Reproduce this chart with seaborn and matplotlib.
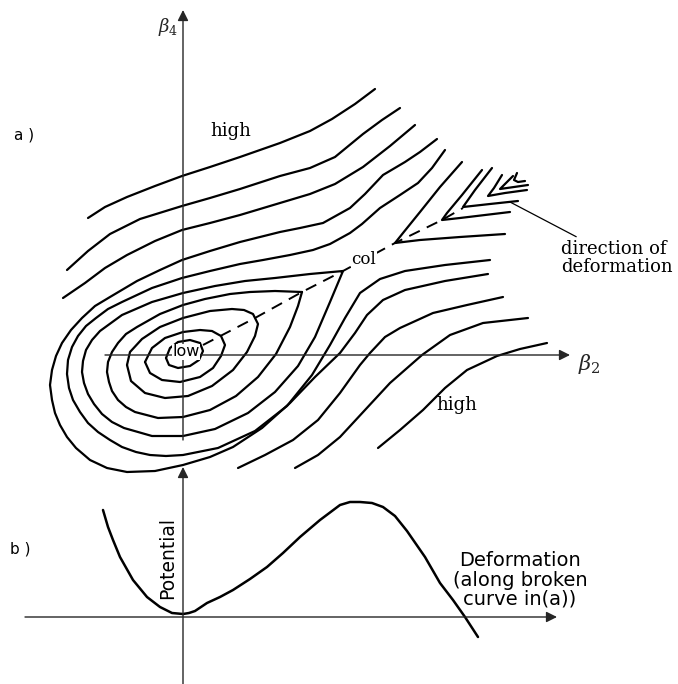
import matplotlib
matplotlib.use("Agg")
import matplotlib.pyplot as plt
import pandas as pd
import seaborn as sns

# contour lines, (x, y) in picture units, y grows downwards
ring1 = [(166, 358), (169, 365), (178, 368), (190, 366), (199, 360), (203, 351), (200, 343),
         (190, 340), (178, 342), (170, 348), (166, 358)]
ring2 = [(145, 362), (150, 373), (162, 380), (180, 382), (200, 377), (213, 368), (221, 356),
         (225, 345), (221, 336), (212, 331), (200, 330), (183, 332), (165, 338), (152, 348),
         (145, 362)]
ring3 = [(127, 365), (131, 381), (145, 393), (165, 398), (188, 396), (212, 386), (233, 370),
         (247, 352), (255, 336), (258, 324), (253, 314), (244, 310), (232, 309), (210, 311),
         (183, 318), (160, 327), (142, 339), (130, 352), (127, 365)]
drop1 = [(302, 292), (275, 291), (250, 292), (230, 294), (205, 299), (183, 305), (160, 314),
         (137, 327), (126, 334), (118, 343), (112, 352), (108, 362), (107, 372), (109, 382),
         (112, 391), (118, 400), (126, 407), (135, 412), (158, 418), (183, 417), (210, 410),
         (236, 396), (258, 377), (276, 354), (290, 327), (298, 306), (302, 292)]
drop2 = [(343, 271), (310, 274), (275, 278), (245, 281), (215, 286), (183, 293), (152, 302),
         (122, 315), (100, 331), (92, 340), (86, 350), (83, 361), (82, 372), (84, 383),
         (88, 394), (94, 404), (102, 414), (112, 422), (124, 428), (152, 436), (183, 436),
         (215, 429), (248, 413), (275, 392), (298, 366), (315, 337), (330, 302), (343, 271)]
outer1 = [(445, 150), (432, 168), (418, 183), (400, 195), (380, 208), (362, 224), (350, 233),
          (330, 244), (313, 250), (290, 255), (263, 260), (240, 264), (210, 271), (182, 278),
          (152, 288), (122, 302), (108, 309), (96, 318), (86, 326), (78, 336), (72, 347),
          (68, 360), (67, 374), (69, 388), (73, 400), (80, 412), (88, 423), (98, 432),
          (110, 440), (122, 447), (136, 452), (150, 455), (166, 456), (183, 455), (218, 448),
          (255, 431), (287, 406), (312, 375), (330, 345), (345, 318), (360, 293), (380, 279),
          (405, 271), (445, 265), (490, 260)]
outer2 = [(437, 139), (420, 152), (405, 162), (383, 175), (365, 194), (350, 208), (323, 223),
          (300, 228), (280, 232), (240, 242), (210, 251), (182, 260), (160, 270), (137, 281),
          (110, 297), (95, 306), (82, 318), (71, 330), (62, 343), (56, 356), (52, 370),
          (50, 385), (52, 400), (55, 413), (60, 425), (67, 437), (76, 448), (90, 460),
          (107, 468), (127, 472), (155, 471), (183, 465), (210, 457), (233, 447), (262, 428),
          (290, 403), (315, 377), (340, 353), (355, 333), (367, 315), (383, 300), (405, 290),
          (445, 281), (488, 274)]
upper1 = [(88, 218), (105, 207), (127, 197), (155, 186), (182, 176), (210, 167), (240, 157),
          (280, 143), (310, 131), (332, 119), (355, 104), (375, 89)]
upper2 = [(67, 270), (88, 251), (110, 234), (140, 219), (182, 206), (210, 198), (240, 189),
          (280, 176), (310, 168), (335, 157), (363, 134), (382, 120), (400, 108)]
upper3 = [(63, 298), (85, 283), (105, 268), (127, 255), (155, 241), (182, 230), (210, 223),
          (240, 215), (280, 203), (310, 194), (335, 184), (363, 167), (390, 146), (415, 125)]
lower1 = [(238, 468), (265, 455), (293, 440), (318, 420), (340, 393), (360, 365), (370, 353),
          (385, 337), (400, 328), (433, 313), (467, 305), (503, 297)]
lower2 = [(295, 468), (318, 455), (340, 437), (365, 410), (390, 383), (422, 355), (450, 335),
          (483, 323), (528, 318)]
lower3 = [(378, 448), (400, 430), (423, 410), (445, 388), (467, 370), (497, 356), (520, 349),
          (547, 343)]
vee1 = [(462, 162), (440, 187), (420, 212), (403, 233), (395, 243), (420, 240), (460, 237),
        (505, 234)]
vee2 = [(482, 170), (462, 195), (447, 213), (442, 220), (460, 218), (485, 215), (510, 212)]
vee3 = [(492, 168), (475, 190), (463, 207), (490, 204), (518, 201)]
vee4 = [(502, 175), (494, 188), (488, 196), (505, 193), (527, 190)]
vee5 = [(513, 176), (505, 184), (500, 189), (514, 187), (528, 185)]
vee6 = [(517, 173), (514, 180), (518, 182), (525, 181)]

# broken curve: path of deformation through the col
path = [(203, 345), (255, 318), (302, 292), (343, 271), (395, 243), (442, 220), (463, 208)]

# panel b: potential along the broken curve
deform = [103, 108, 113, 120, 133, 147, 160, 172, 183, 189, 195, 201, 207, 220, 233, 250,
          267, 283, 300, 320, 340, 350, 360, 372, 383, 395, 407, 425, 440, 453, 465, 478]
potential = [510, 527, 540, 557, 580, 597, 607, 613, 614, 613, 611, 607, 603, 597, 590, 579,
             567, 553, 537, 520, 505, 502, 502, 503, 507, 516, 531, 557, 583, 600, 617, 637]

contours = {"ring1": ring1, "ring2": ring2, "ring3": ring3, "drop1": drop1, "drop2": drop2,
            "outer1": outer1, "outer2": outer2, "upper1": upper1, "upper2": upper2,
            "upper3": upper3, "lower1": lower1, "lower2": lower2, "lower3": lower3,
            "vee1": vee1, "vee2": vee2, "vee3": vee3, "vee4": vee4, "vee5": vee5, "vee6": vee6}
rows = []
for name, pts in contours.items():
    for x, y in pts:
        rows.append((name, x, y))
df = pd.DataFrame(rows, columns=["line", "b2", "b4"])

sns.set_theme(style="white")
plt.rcParams["mathtext.fontset"] = "dejavuserif"

fig, ax = plt.subplots(figsize=(6.78, 6.84), dpi=100)
fig.subplots_adjust(left=0, right=1, bottom=0, top=1)

sns.lineplot(data=df, x="b2", y="b4", units="line", estimator=None, sort=False,
             color="black", lw=1.6, ax=ax)
sns.lineplot(x=[p[0] for p in path], y=[p[1] for p in path], sort=False, color="black",
             lw=1.4, linestyle=(0, (6, 4)), ax=ax)
sns.lineplot(x=deform, y=potential, sort=False, color="black", lw=1.8, ax=ax)

# axes drawn as arrows, like the sketch
arrow = dict(arrowstyle="-|>", color="0.15", lw=1.0, mutation_scale=16, shrinkA=0, shrinkB=0)
ax.annotate("", xy=(183, 10), xytext=(183, 440), arrowprops=arrow)
ax.annotate("", xy=(570, 355), xytext=(105, 355), arrowprops=arrow)
ax.annotate("", xy=(183, 467), xytext=(183, 684), arrowprops=arrow)
ax.annotate("", xy=(557, 617), xytext=(25, 617), arrowprops=arrow)

serif = dict(family="DejaVu Serif", color="black")
sans = dict(family="DejaVu Sans", color="black")
ax.text(168, 27, r"$\beta_4$", fontsize=13, ha="center", va="center")
ax.text(589, 364, r"$\beta_2$", fontsize=15, ha="center", va="center")
ax.text(24, 135, "a )", fontsize=11, ha="center", va="center", **sans)
ax.text(20, 549, "b )", fontsize=11, ha="center", va="center", **sans)
ax.text(231, 131, "high", fontsize=13, ha="center", va="center", **serif)
ax.text(457, 405, "high", fontsize=13, ha="center", va="center", **serif)
ax.text(186, 352, "low", fontsize=11.5, ha="center", va="center", **sans,
        bbox=dict(fc="white", ec="none", pad=0.5))
ax.text(364, 259, "col", fontsize=12, ha="center", va="center", **serif,
        bbox=dict(fc="white", ec="none", pad=0.3))
ax.annotate("direction of\ndeformation", xy=(510, 202), xytext=(561, 258),
            fontsize=13, ha="left", va="center", linespacing=1.0, **serif,
            arrowprops=dict(arrowstyle="-", color="black", lw=0.9, shrinkA=0, shrinkB=0))
ax.text(168, 558, "Potential", fontsize=13.5, rotation=90, ha="center", va="center", **sans)
ax.text(520, 580, "Deformation\n(along broken\ncurve in(a))", fontsize=14, ha="center",
        va="center", linespacing=1.0, **sans)

ax.set_xlim(0, 678)
ax.set_ylim(684, 0)
ax.axis("off")
fig.savefig("out.png", dpi=100)
